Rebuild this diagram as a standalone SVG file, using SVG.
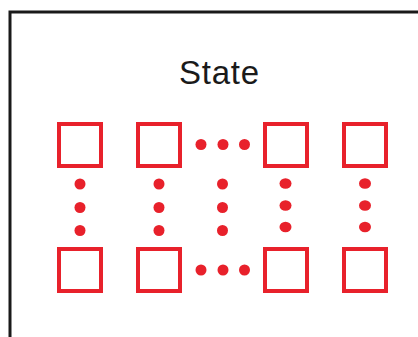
<svg xmlns="http://www.w3.org/2000/svg" width="418" height="337" viewBox="0 0 418 337">
  <style>
    .frame { fill: none; stroke: #1a1a1a; stroke-width: 3; }
    .cell { fill: #ffffff; stroke: #e8212b; stroke-width: 4; }
    .dot { fill: #e8212b; }
    .title { font-family: "Liberation Sans", Arial, sans-serif; font-size: 33px; fill: #1a1a1a; }
  </style>
  <rect width="418" height="337" fill="#ffffff"/>

  <!-- state container (open on the right and bottom) -->
  <path class="frame" d="M10,337 V12 H418"/>
  <text class="title" x="179" y="84" textLength="80" lengthAdjust="spacing">State</text>

  <!-- top row of cells -->
  <g id="cell-top-1"><rect class="cell" x="59" y="124" width="42" height="42"/></g>
  <g id="cell-top-2"><rect class="cell" x="138" y="124" width="42" height="42"/></g>
  <g id="cell-top-3"><rect class="cell" x="265" y="124" width="42" height="42"/></g>
  <g id="cell-top-4"><rect class="cell" x="344" y="124" width="42" height="42"/></g>

  <!-- bottom row of cells -->
  <g id="cell-bottom-1"><rect class="cell" x="59" y="249" width="42" height="42"/></g>
  <g id="cell-bottom-2"><rect class="cell" x="138" y="249" width="42" height="42"/></g>
  <g id="cell-bottom-3"><rect class="cell" x="265" y="249" width="42" height="42"/></g>
  <g id="cell-bottom-4"><rect class="cell" x="344" y="249" width="42" height="42"/></g>

  <!-- ellipsis dots -->
  <g id="ellipses">
    <!-- horizontal, top row -->
    <circle class="dot" cx="201" cy="144.5" r="5.5"/>
    <circle class="dot" cx="223" cy="144.5" r="5.5"/>
    <circle class="dot" cx="244.5" cy="144.5" r="5.5"/>
    <!-- horizontal, bottom row -->
    <circle class="dot" cx="201" cy="270" r="5.5"/>
    <circle class="dot" cx="223" cy="270" r="5.5"/>
    <circle class="dot" cx="244.5" cy="270" r="5.5"/>
    <!-- vertical columns -->
    <circle class="dot" cx="80" cy="184" r="5.5"/>
    <circle class="dot" cx="80" cy="207.5" r="5.5"/>
    <circle class="dot" cx="80" cy="230.5" r="5.5"/>
    <circle class="dot" cx="159" cy="184" r="5.5"/>
    <circle class="dot" cx="159" cy="207.5" r="5.5"/>
    <circle class="dot" cx="159" cy="230.5" r="5.5"/>
    <circle class="dot" cx="222.5" cy="184" r="5.5"/>
    <circle class="dot" cx="222.5" cy="207.5" r="5.5"/>
    <circle class="dot" cx="222.5" cy="230.5" r="5.5"/>
    <ellipse class="dot" cx="285.5" cy="183.5" rx="6" ry="5.3"/>
    <ellipse class="dot" cx="285.5" cy="205.5" rx="6" ry="5.3"/>
    <ellipse class="dot" cx="285.5" cy="227" rx="6" ry="5.3"/>
    <ellipse class="dot" cx="365" cy="183.5" rx="6" ry="5.3"/>
    <ellipse class="dot" cx="365" cy="205.5" rx="6" ry="5.3"/>
    <ellipse class="dot" cx="365" cy="227" rx="6" ry="5.3"/>
  </g>
</svg>
